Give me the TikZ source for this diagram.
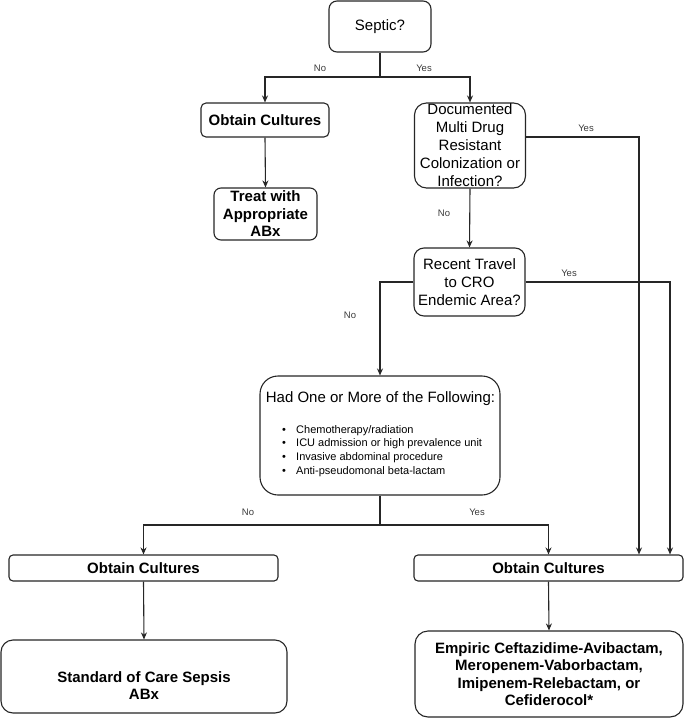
\documentclass[tikz,border=0pt]{standalone}
\usepackage{fontspec}
\setmainfont{Liberation Sans}
\usetikzlibrary{arrows.meta}
\definecolor{ln}{HTML}{262626}
\definecolor{lbl}{HTML}{3A3A3A}
\tikzset{
  box/.style={draw=ln, line width=1.1pt, fill=white, inner sep=0pt, align=center, text=black},
  reg/.style={font=\fontsize{15}{18}\selectfont},
  bld/.style={font=\fontsize{15}{17.5}\selectfont\bfseries},
  lab/.style={font=\fontsize{9.5}{11}\selectfont, text=lbl, inner sep=0pt},
  bul/.style={font=\fontsize{11}{13}\selectfont, inner sep=0pt, anchor=base west},
  bdot/.style={font=\fontsize{11}{13}\selectfont, inner sep=0pt, anchor=base},
  arr/.style={draw=ln, line width=1.1pt, -{Stealth[length=7pt,width=6pt]}},
  ln/.style={draw=ln, line width=1.1pt}
}
\begin{document}
\begin{tikzpicture}[x=1pt,y=-1pt]
\useasboundingbox (0,0) rectangle (684,718);
% nodes
\node[box, reg, rounded corners=8pt, minimum width=102pt, minimum height=51pt] (septic) at (380,26.5) {Septic?};
\node[box, bld, rounded corners=5pt, minimum width=128pt, minimum height=34pt] (obt1) at (265,120) {Obtain Cultures};
\node[box, bld, rounded corners=7pt, minimum width=103pt, minimum height=52pt] (treat) at (265.5,214) {Treat with\\Appropriate\\ABx};
\node[box, reg, rounded corners=12pt, minimum width=111pt, minimum height=85pt] (doc) at (470,145.5) {Documented\\Multi Drug\\Resistant\\Colonization or\\Infection?};
\node[box, reg, rounded corners=10pt, minimum width=111pt, minimum height=68pt] (recent) at (469.5,282) {Recent Travel\\to CRO\\Endemic Area?};
\node[box, rounded corners=18pt, minimum width=240pt, minimum height=119pt] (had) at (380,435.5) {};
\node[reg, inner sep=0pt, anchor=base] (hadt) at (380.5,402) {Had One or More of the Following:};
\node[bdot] (d1) at (284,433) {\textbullet};
\node[bul] (b1) at (296,433) {Chemotherapy/radiation};
\node[bdot] (d2) at (284,446.7) {\textbullet};
\node[bul] (b2) at (296,446.7) {ICU admission or high prevalence unit};
\node[bdot] (d3) at (284,460.4) {\textbullet};
\node[bul] (b3) at (296,460.4) {Invasive abdominal procedure};
\node[bdot] (d4) at (284,474.1) {\textbullet};
\node[bul] (b4) at (296,474.1) {Anti-pseudomonal beta-lactam};
\node[box, bld, rounded corners=4pt, minimum width=269pt, minimum height=26pt] (obt2) at (143.5,568) {Obtain Cultures};
\node[box, bld, rounded corners=4pt, minimum width=269pt, minimum height=26pt] (obt3) at (548.5,568) {Obtain Cultures};
\node[box, rounded corners=12pt, minimum width=286pt, minimum height=73pt] (std) at (144,676.5) {};
\node[bld, inner sep=0pt, align=center] (stdt) at (144,685.5) {Standard of Care Sepsis\\ABx};
\node[box, bld, rounded corners=13pt, minimum width=268pt, minimum height=86pt] (emp) at (549,674) {Empiric Ceftazidime-Avibactam,\\Meropenem-Vaborbactam,\\Imipenem-Relebactam, or\\Cefiderocol*};
% junctions
\coordinate (j1) at (380,77);
\coordinate (j2) at (380,525);
% connectors
\draw[ln] (septic.south) -- (j1);
\draw[arr] (j1) -| (obt1.north);
\draw[arr] (j1) -| (doc.north);
\draw[arr] (obt1.south) -- (treat.north);
\draw[arr] (doc.south) -- (recent.north);
\draw[arr] (doc.east |- 0,137) -| (obt3.north -| 639,0);
\draw[arr] (recent.east) -| (obt3.north -| 670,0);
\draw[arr] (recent.west) -| (had.north);
\draw[ln] (had.south) -- (j2);
\draw[arr] (j2) -| (obt2.north);
\draw[arr] (j2) -| (obt3.north);
\draw[arr] (obt2.south) -- (std.north);
\draw[arr] (obt3.south) -- (emp.north);
% labels
\node[lab] (l1) at (320,68) {No};
\node[lab] (l2) at (424,68) {Yes};
\node[lab] (l3) at (586,128) {Yes};
\node[lab] (l4) at (444,213) {No};
\node[lab] (l5) at (569,273) {Yes};
\node[lab] (l6) at (350,315) {No};
\node[lab] (l7) at (248,512) {No};
\node[lab] (l8) at (477,512) {Yes};
\end{tikzpicture}
\end{document}
